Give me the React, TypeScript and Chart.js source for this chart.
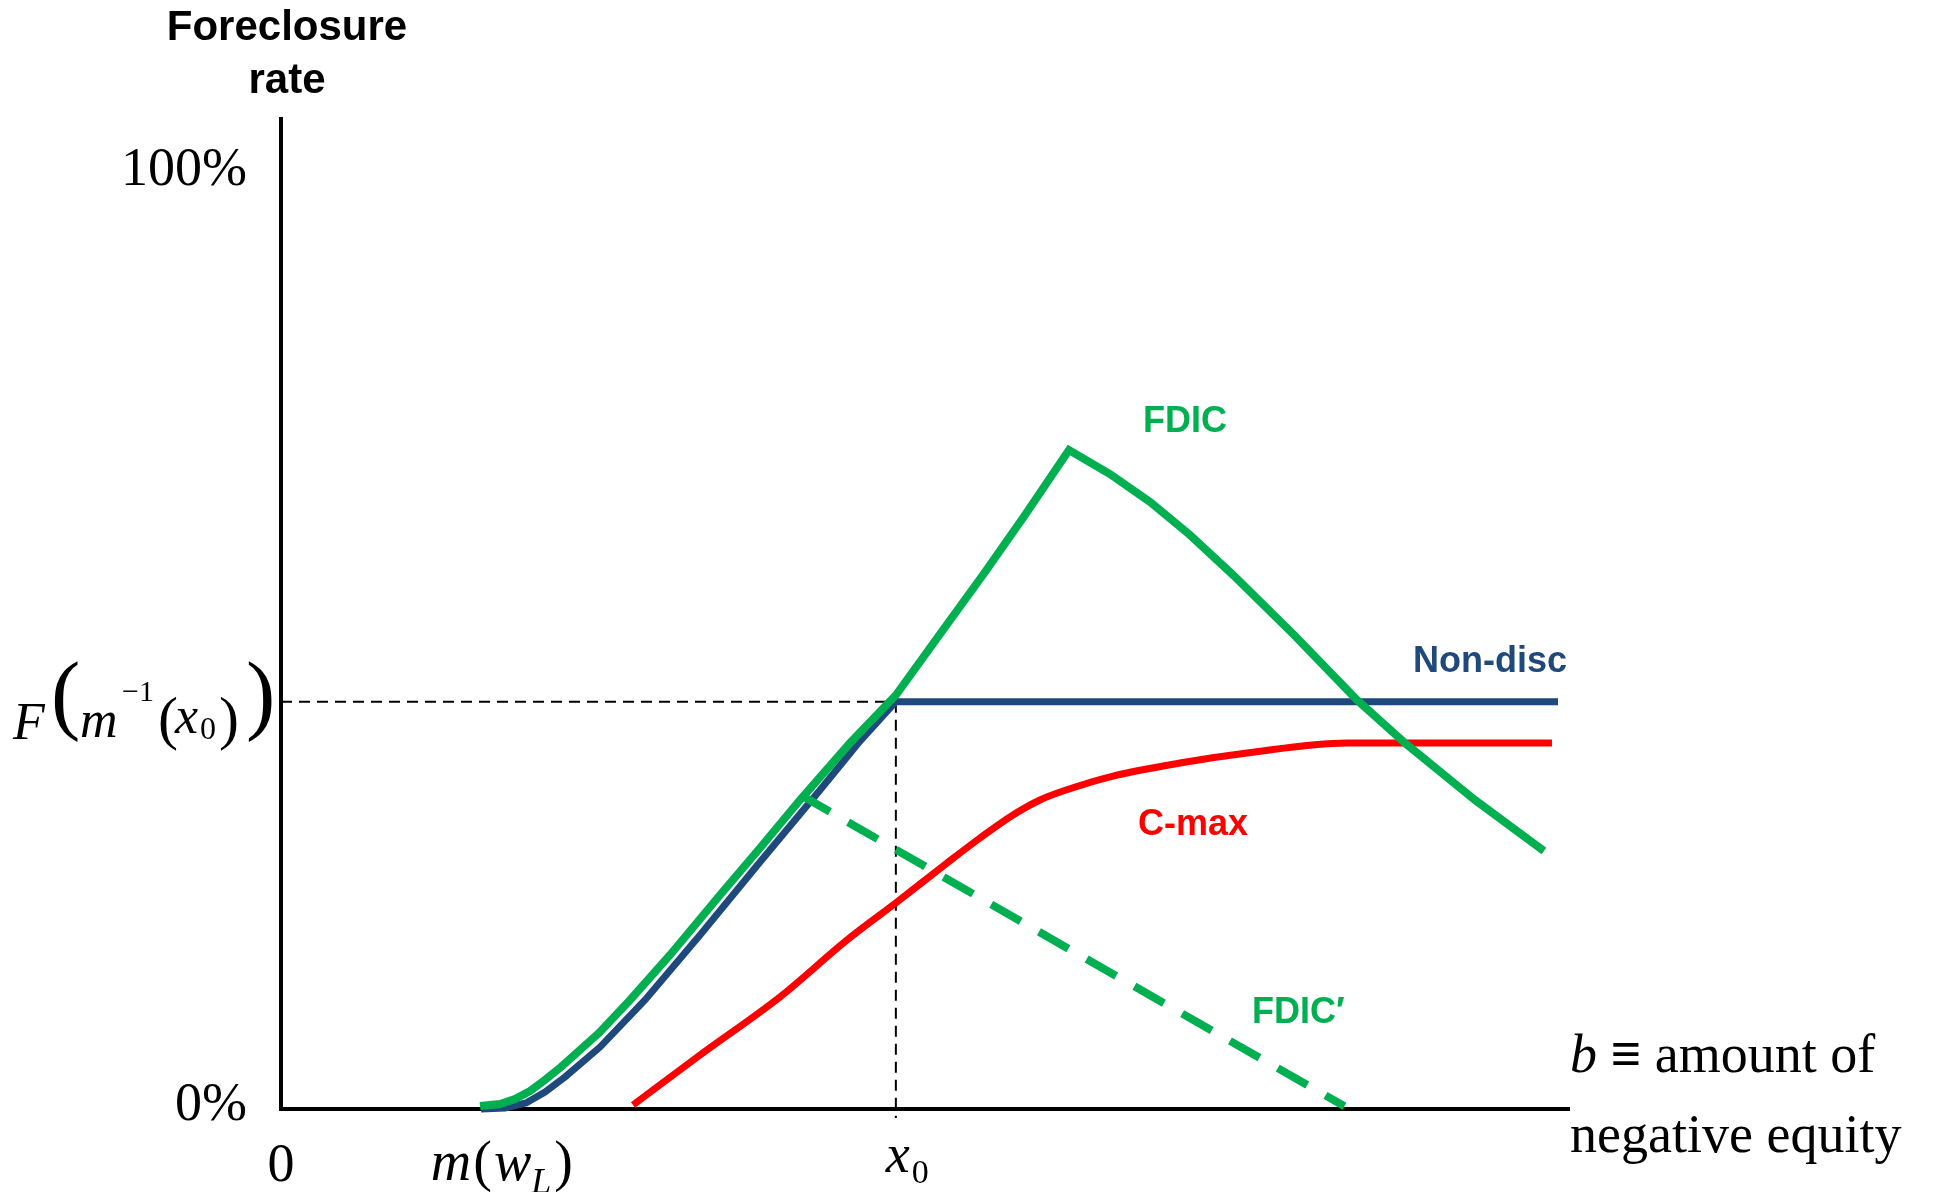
import React, { useEffect, useRef } from "react";
import { Chart, registerables } from "chart.js";

Chart.register(...registerables);

// ---- data (x: negative equity units 0..100, y: foreclosure rate %) ----
const X_MAX = 100;
const Y_MAX = 105.2;
const X0_VALUE = 47.7; // x0
const MWL_VALUE = 15.5; // m(w_L)
const FX0_VALUE = 43.2; // F(m^-1(x0))

const yTickValues = [0, 100];
const yTickLabels = ["0%", "100%"];

const nonDiscX = [15.52, 17.38, 19.01, 20.48, 22.03, 24.75, 28.24, 32.51, 37.16, 41.82, 44.92, 47.7, 99.07];
const nonDiscY = [0, 0.11, 0.64, 1.8, 3.39, 6.57, 11.56, 18.45, 26.19, 33.83, 39.02, 43.2, 43.2];

const fdicX = [15.44, 16.99, 18.15, 19.32, 20.48, 21.72, 24.67, 27.08, 30.18, 34.06, 37.16, 40.26, 44.14, 47.71, 51.13, 54.62, 57.72, 61.13, 64.31, 67.42, 70.52, 73.86, 78.67, 83.48, 87.28, 92.63, 97.98];
const fdicY = [0.32, 0.53, 1.06, 1.91, 3.08, 4.45, 8.06, 11.56, 16.33, 22.69, 27.68, 32.77, 38.81, 43.9, 50.37, 56.95, 62.99, 69.88, 67.34, 64.37, 60.87, 56.63, 50.16, 43.37, 38.71, 32.77, 27.36];

const cmaxX = [27.31, 32.51, 38.71, 43.91, 47.79, 51.67, 54.23, 56.79, 58.88, 60.67, 64.55, 69.74, 74.94, 82.7, 98.6];
const cmaxY = [0.42, 5.73, 11.88, 17.92, 21.95, 26.09, 28.74, 31.18, 32.77, 33.72, 35.31, 36.69, 37.75, 38.81, 38.81];

const fdicPrimeX = [40.7, 61.6, 82.5];
const fdicPrimeY = [33.0, 16.6, 0.3];

const GREEN = "#00B050";
const BLUE = "#1F497D";
const RED = "#FF0000";

const SERIF = "'Liberation Serif', 'Times New Roman', serif";
const SANS = "'Liberation Sans', Arial, sans-serif";

const pts = (xs: number[], ys: number[]) => xs.map((x, i) => ({ x, y: ys[i] }));

const annotPlugin = {
  id: "annot",
  beforeDatasetsDraw(chart: any) {
    const { ctx, chartArea } = chart;
    const xs = chart.scales.x;
    const ys = chart.scales.y;
    const ax = xs.getPixelForValue(0);
    const ay = ys.getPixelForValue(0);
    const px = xs.getPixelForValue(X0_VALUE);
    const py = ys.getPixelForValue(FX0_VALUE);
    ctx.save();
    ctx.strokeStyle = "#000";
    ctx.lineWidth = 2;
    ctx.setLineDash([11, 7]);
    ctx.beginPath();
    ctx.moveTo(ax, py);
    ctx.lineTo(px, py);
    ctx.stroke();
    ctx.beginPath();
    ctx.moveTo(px, py);
    ctx.lineTo(px, ay + 9);
    ctx.stroke();
    ctx.setLineDash([]);
    ctx.lineWidth = 4;
    ctx.beginPath();
    ctx.moveTo(ax, chartArea.top);
    ctx.lineTo(ax, ay + 2);
    ctx.moveTo(ax - 2, ay);
    ctx.lineTo(chartArea.right, ay);
    ctx.stroke();
    ctx.restore();
  },
  afterDatasetsDraw(chart: any) {
    const { ctx, chartArea } = chart;
    const xs = chart.scales.x;
    const ys = chart.scales.y;
    const ax = xs.getPixelForValue(0);
    const ay = ys.getPixelForValue(0);
    const px = xs.getPixelForValue(X0_VALUE);
    const mx = xs.getPixelForValue(MWL_VALUE);
    const py = ys.getPixelForValue(FX0_VALUE);
    ctx.save();
    ctx.fillStyle = "#000";
    ctx.textBaseline = "alphabetic";

    // title
    ctx.textAlign = "center";
    ctx.font = `bold 42px ${SANS}`;
    ctx.fillText("Foreclosure", ax + 6, 40);
    ctx.fillText("rate", ax + 6, 93);

    // y tick labels
    ctx.textAlign = "right";
    ctx.font = `54px ${SERIF}`;
    yTickValues.forEach((v, i) => {
      const yy = ys.getPixelForValue(v);
      ctx.fillText(yTickLabels[i], ax - 34, yy + 19 - (v === 0 ? 8 : 0));
    });

    // F(m^-1(x0)) label
    ctx.textAlign = "left";
    const put = (t: string, font: string, x: number, y: number) => {
      ctx.font = font;
      ctx.fillText(t, x, y);
    };
    put("F", `italic 52px ${SERIF}`, 13, py + 37);
    put("(", `88px ${SERIF}`, 51, py + 21);
    put("m", `italic 52px ${SERIF}`, 80, py + 35);
    put("\u22121", `30px ${SERIF}`, 122, py - 1);
    put("(", `60px ${SERIF}`, 158, py + 36);
    put("x", `italic 52px ${SERIF}`, 175, py + 31);
    put("0", `32px ${SERIF}`, 200, py + 37);
    put(")", `60px ${SERIF}`, 219, py + 36);
    put(")", `88px ${SERIF}`, 246, py + 21);

    // x labels
    ctx.textAlign = "center";
    put("0", `54px ${SERIF}`, ax, ay + 72);
    ctx.textAlign = "left";
    let cx = mx - 50;
    const run = (t: string, font: string, dy: number, extra = 0) => {
      ctx.font = font;
      ctx.fillText(t, cx, ay + dy);
      cx += ctx.measureText(t).width + extra;
    };
    run("m", `italic 56px ${SERIF}`, 71, 2);
    run("(", `56px ${SERIF}`, 71, 2);
    run("w", `italic 56px ${SERIF}`, 71, 0);
    run("L", `italic 36px ${SERIF}`, 84, 3);
    run(")", `56px ${SERIF}`, 71);
    put("x", `italic 54px ${SERIF}`, px - 10, ay + 63);
    put("0", `34px ${SERIF}`, px + 16, ay + 74);

    // axis title
    cx = chartArea.right;
    run("b", `italic 54px ${SERIF}`, -37, 0);
    run(" ", `54px ${SERIF}`, -37);
    run("\u2261", `bold 54px ${SERIF}`, -37);
    run(" amount of", `54px ${SERIF}`, -37);
    put("negative equity", `54px ${SERIF}`, chartArea.right, ay + 43);

    // series labels
    ctx.textBaseline = "middle";
    ctx.textAlign = "center";
    ctx.font = `bold 36px ${SANS}`;
    ctx.fillStyle = GREEN;
    ctx.fillText("FDIC", 1185, 422);
    ctx.fillStyle = BLUE;
    ctx.fillText("Non-disc", 1490, 662);
    ctx.fillStyle = RED;
    ctx.fillText("C-max", 1193, 825);
    ctx.fillStyle = GREEN;
    ctx.textAlign = "left";
    ctx.fillText("FDIC\u2032", 1252, 1013);
    ctx.restore();
  },
};

export default function App() {
  const ref = useRef<HTMLCanvasElement | null>(null);
  useEffect(() => {
    if (!ref.current) return;
    const common = { pointRadius: 0, fill: false, tension: 0, clip: false as any, borderCapStyle: "butt" as const };
    const chart = new Chart(ref.current, {
      type: "line",
      data: {
        datasets: [
          { label: "FDIC", data: pts(fdicX, fdicY), borderColor: GREEN, borderWidth: 8, ...common },
          { label: "FDIC'", data: pts(fdicPrimeX, fdicPrimeY), borderColor: GREEN, borderWidth: 8, borderDash: [34, 21], borderDashOffset: 6, ...common },
          { label: "C-max", data: pts(cmaxX, cmaxY), borderColor: RED, borderWidth: 7, ...common, cubicInterpolationMode: "monotone" as const },
          { label: "Non-disc", data: pts(nonDiscX, nonDiscY), borderColor: BLUE, borderWidth: 7, ...common },
        ],
      },
      options: {
        responsive: false,
        animation: false,
        layout: { padding: { left: 281, right: 364, top: 117, bottom: 83 } },
        plugins: { legend: { display: false }, tooltip: { enabled: false }, title: { display: false } },
        scales: {
          x: { type: "linear", min: 0, max: X_MAX, display: false },
          y: { type: "linear", min: 0, max: Y_MAX, display: false },
        },
      },
      plugins: [annotPlugin],
    });
    return () => chart.destroy();
  }, []);
  return (
    <div style={{ position: "absolute", left: 0, top: 0, width: 1934, height: 1192, background: "#fff" }}>
      <canvas ref={ref} width={1934} height={1192} style={{ display: "block" }} />
    </div>
  );
}
